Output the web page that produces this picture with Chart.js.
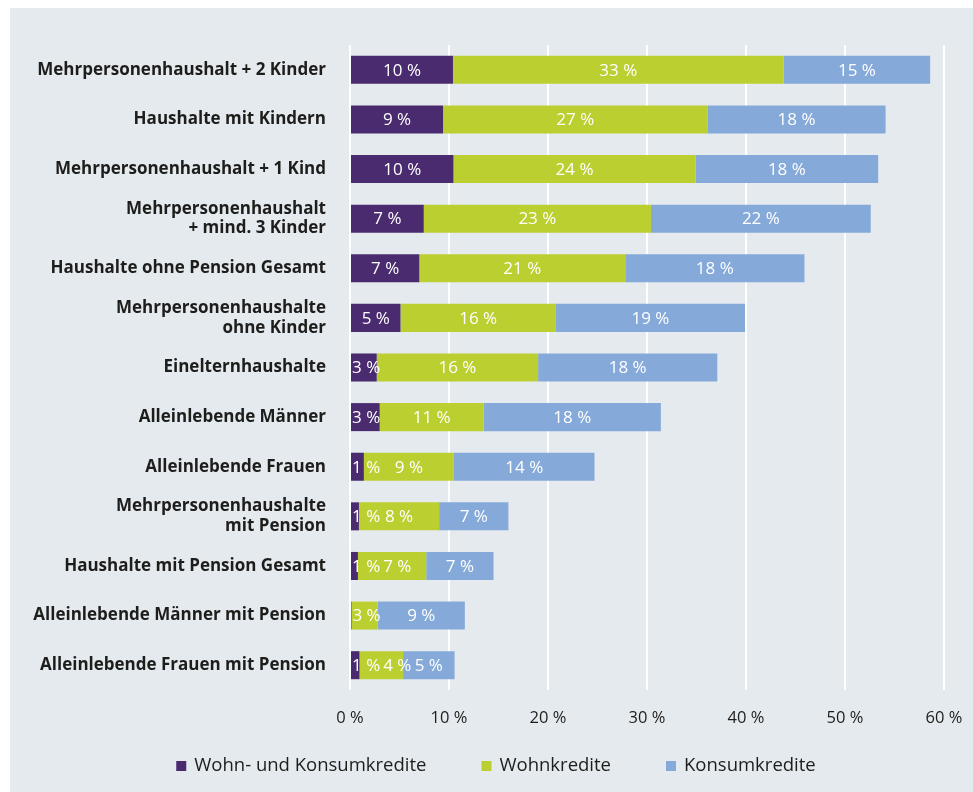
<!DOCTYPE html>
<html>
<head>
<meta charset="utf-8">
<script src="https://cdn.jsdelivr.net/npm/chart.js@4/dist/chart.umd.min.js"></script>
<style>
  html, body { margin: 0; padding: 0; background: #ffffff; }
  #panel { position: absolute; left: 10px; top: 8px; width: 963px; height: 784px; background: #e5eaef; }
  #wrap { position: absolute; left: 0; top: 0; width: 973px; height: 792px; }
</style>
</head>
<body>
<div id="panel"></div>
<div id="wrap"><canvas id="chart"></canvas></div>
<script>
// categories, top to bottom
var categories = [
  "Mehrpersonenhaushalt + 2 Kinder",
  "Haushalte mit Kindern",
  "Mehrpersonenhaushalt + 1 Kind",
  ["Mehrpersonenhaushalt", "+ mind. 3 Kinder"],
  "Haushalte ohne Pension Gesamt",
  ["Mehrpersonenhaushalte", "ohne Kinder"],
  "Einelternhaushalte",
  "Alleinlebende Männer",
  "Alleinlebende Frauen",
  ["Mehrpersonenhaushalte", "mit Pension"],
  "Haushalte mit Pension Gesamt",
  "Alleinlebende Männer mit Pension",
  "Alleinlebende Frauen mit Pension"
];

// shares in %
var wohnUndKonsum = [10.4, 9.4, 10.45, 7.45, 7.0, 5.1, 2.7, 3.0, 1.4, 0.9, 0.8, 0.15, 0.96];
var wohnkredite   = [33.4, 26.7, 24.45, 22.95, 20.8, 15.7, 16.3, 10.5, 9.1, 8.1, 6.9, 2.65, 4.4];
var konsumkredite = [14.8, 18.0, 18.45, 22.2, 18.1, 19.1, 18.1, 17.9, 14.2, 7.0, 6.8, 8.8, 5.2];

var seriesNames = ["Wohn- und Konsumkredite", "Wohnkredite", "Konsumkredite"];
var xTicks = [0, 10, 20, 30, 40, 50, 60];

var textColor = "#1d1d1b";

// white value labels in the bar segments, pushed right if they would overlap
const barLabels = {
  id: "barLabels",
  afterDatasetsDraw(chart) {
    const ctx = chart.ctx;
    ctx.save();
    ctx.font = '400 17px "Open Sans"';
    ctx.fillStyle = "#ffffff";
    ctx.textBaseline = "middle";
    ctx.textAlign = "left";
    categories.forEach(function (c, i) {
      let prevRight = -Infinity;
      chart.data.datasets.forEach(function (ds, d) {
        const bar = chart.getDatasetMeta(d).data[i];
        const r = Math.round(ds.data[i]);
        if (r === 0) return;
        const txt = r + " %";
        const w = ctx.measureText(txt).width;
        const start = Math.min(bar.base, bar.x);
        let left = (bar.base + bar.x) / 2 - w / 2;
        left = Math.max(left, start + 1, prevRight + 3);
        ctx.fillText(txt, left, bar.y + 1);
        prevRight = left + w;
      });
    });
    ctx.restore();
  }
};

// legend row under the axis
const bottomLegend = {
  id: "bottomLegend",
  afterDraw(chart) {
    const ctx = chart.ctx;
    ctx.save();
    ctx.font = '400 18.5px "Open Sans"';
    const items = chart.data.datasets.map(function (ds) {
      return { text: ds.label, color: ds.backgroundColor, w: 10 + 8 + ctx.measureText(ds.label).width };
    });
    const gap = 55;
    const total = items.reduce((s, it) => s + it.w, 0) + gap * (items.length - 1);
    let x = 496 - total / 2;
    const y = 766;
    items.forEach(function (it) {
      ctx.fillStyle = it.color;
      ctx.fillRect(x, y - 5, 10, 10);
      ctx.fillStyle = textColor;
      ctx.textBaseline = "middle";
      ctx.fillText(it.text, x + 18, y);
      x += it.w + gap;
    });
    ctx.restore();
  }
};

var ctx = document.getElementById("chart").getContext("2d");
var myChart = new Chart(ctx, {
  type: "bar",
  data: {
    labels: categories,
    datasets: [
      { label: seriesNames[0], data: wohnUndKonsum, backgroundColor: "#4a2b6f" },
      { label: seriesNames[1], data: wohnkredite, backgroundColor: "#bccf31" },
      { label: seriesNames[2], data: konsumkredite, backgroundColor: "#85a9d9" }
    ]
  },
  options: {
    indexAxis: "y",
    responsive: true,
    maintainAspectRatio: false,
    animation: false,
    layout: { padding: { top: 45, left: 0, right: 29, bottom: 52 } },
    datasets: { bar: { barPercentage: 0.565, categoryPercentage: 1, borderWidth: 0 } },
    plugins: {
      legend: { display: false },
      tooltip: { enabled: false }
    },
    scales: {
      x: {
        stacked: true,
        min: xTicks[0],
        max: xTicks[xTicks.length - 1],
        afterFit: function (scale) { scale.height = 50; scale.paddingRight = 0; },
        afterBuildTicks: function (scale) { scale.ticks = xTicks.map(v => ({ value: v })); },
        // invisible tick marks push the labels down without widening the right padding
        grid: { color: "#ffffff", lineWidth: 2, drawTicks: true, tickLength: 18, tickColor: "rgba(0,0,0,0)" },
        border: { display: false },
        ticks: {
          padding: 0,
          color: textColor,
          font: { family: "Open Sans", size: 16.5 },
          callback: function (v) { return v + " %"; }
        }
      },
      y: {
        stacked: true,
        afterFit: function (scale) { scale.width = 350; },
        grid: { display: false, drawTicks: false },
        border: { display: false },
        ticks: {
          padding: 24,
          color: textColor,
          font: { family: "Open Sans", size: 17, weight: 700, lineHeight: 1.15 }
        }
      }
    }
  },
  plugins: [barLabels, bottomLegend]
});
</script>
</body>
</html>
